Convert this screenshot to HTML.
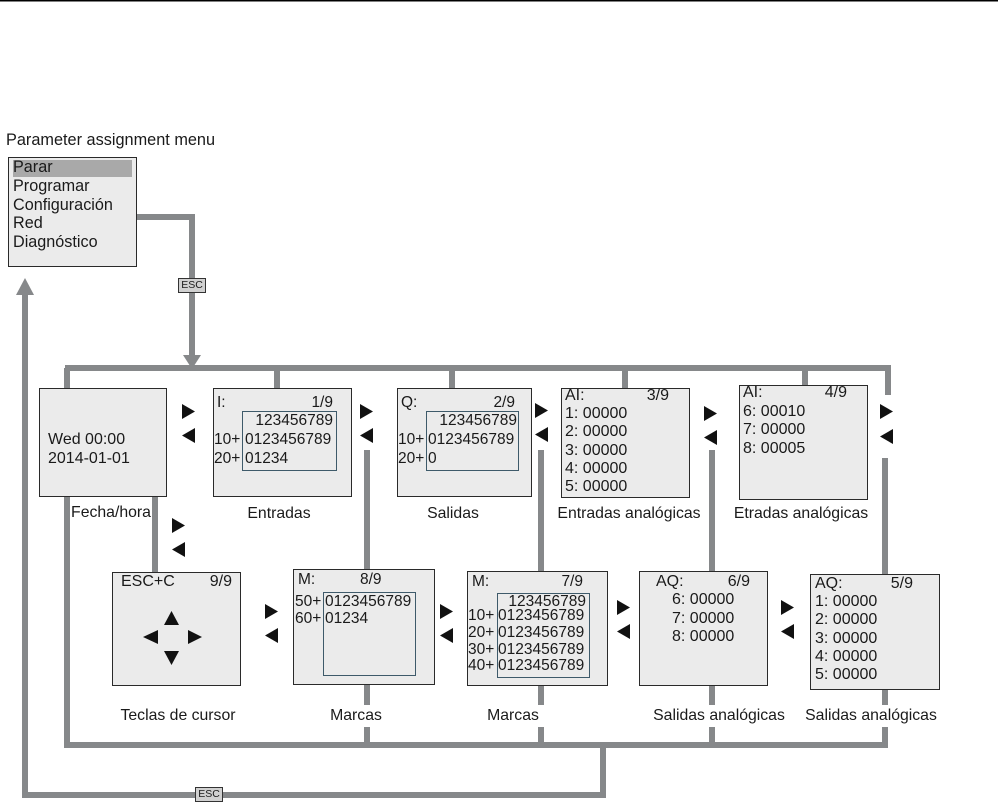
<!DOCTYPE html>
<html><head><meta charset="utf-8">
<style>
body{margin:0;background:#fff;}
#c{position:relative;width:998px;height:805px;overflow:hidden;background:#fff;font-family:"Liberation Sans",Arial,sans-serif;color:#1a1a1a;}
.b{position:absolute;background:#ebebeb;border:1.5px solid #2a2a2a;box-sizing:border-box;}
.i{position:absolute;border:1.5px solid #3e5a6a;box-sizing:border-box;}
.t{position:absolute;font-size:15.5px;line-height:18px;white-space:nowrap;}
.r{text-align:right;}
.l{position:absolute;font-size:15.8px;line-height:18px;white-space:nowrap;transform:translateX(-50%);}
svg{position:absolute;left:0;top:0;}
</style></head><body><div id="c">
<svg width="998" height="805">
<rect x="0" y="0" width="998" height="1.5" fill="#000"/>
<g fill="none" stroke="#86888a" stroke-width="6">
<path d="M136,217 H192 V358"/>
<path d="M65,368 H888 V395"/>
<path d="M67,368 V745 H888"/>
<path d="M277,368 V390 M452,368 V390 M625,368 V390 M805,368 V388"/>
<path d="M155,496 V573"/>
<path d="M367,450 V570 M367,684 V705 M367,727 V745"/>
<path d="M541,450 V572 M541,685 V705 M541,727 V745"/>
<path d="M712,450 V572 M712,685 V705 M712,727 V745"/>
<path d="M885,458 V576 M885,688 V705 M885,727 V745"/>
<path d="M603,745 V795 H25 V292"/>
</g>
<polygon points="183,355 201,355 192,369" fill="#86888a"/>
<polygon points="16,295 34,295 25,278" fill="#86888a"/>
<g fill="#111">
<polygon points="182,404 195,411.5 182,419"/><polygon points="195,428 182,435.5 195,443"/>
<polygon points="360,404 373,411.5 360,419"/><polygon points="373,428 360,435.5 373,443"/>
<polygon points="535,403 548,410.5 535,418"/><polygon points="548,427 535,434.5 548,442"/>
<polygon points="704,406 717,413.5 704,421"/><polygon points="717,430 704,437.5 717,445"/>
<polygon points="880,404 893,411.5 880,419"/><polygon points="893,429 880,436.5 893,444"/>
<polygon points="172,518 185,525.5 172,533"/><polygon points="185,542 172,549.5 185,557"/>
<polygon points="265,604 278,611.5 265,619"/><polygon points="278,628 265,635.5 278,643"/>
<polygon points="440,604 453,611.5 440,619"/><polygon points="453,628 440,635.5 453,643"/>
<polygon points="617,600 630,607.5 617,615"/><polygon points="630,624 617,631.5 630,639"/>
<polygon points="781,600 794,607.5 781,615"/><polygon points="794,624 781,631.5 794,639"/>
</g>
</svg>

<div class="t" style="left:6px;top:131px;font-size:16.3px;">Parameter assignment menu</div>
<div class="b" style="left:8px;top:157px;width:129px;height:110px;"></div>
<div style="position:absolute;left:13px;top:160px;width:119px;height:17px;background:#a9a9a9;"></div>
<div class="t" style="left:13px;top:158px;font-size:16.2px;line-height:18.8px;">Parar<br>Programar<br>Configuración<br>Red<br>Diagnóstico</div>

<div style="position:absolute;left:178px;top:278px;width:28px;height:15px;background:#d0d0d0;border:1px solid #333;box-sizing:border-box;font-size:10.5px;line-height:13px;text-align:center;">ESC</div>
<div style="position:absolute;left:195px;top:787px;width:28px;height:15px;background:#d0d0d0;border:1px solid #333;box-sizing:border-box;font-size:10.5px;line-height:13px;text-align:center;">ESC</div>

<div class="b" style="left:39px;top:388px;width:128px;height:109px;"></div>
<div class="t" style="left:48px;top:430px;line-height:19px;font-size:16px;">Wed 00:00<br>2014-01-01</div>

<div class="b" style="left:213px;top:388px;width:139px;height:109px;"></div>
<div class="i" style="left:242px;top:411px;width:95px;height:60px;"></div>
<div class="t" style="left:217px;top:394px;">I:</div>
<div class="t r" style="left:290px;top:394px;width:43px;">1/9</div>
<div class="t r" style="left:240px;top:412px;width:93px;">123456789</div>
<div class="t" style="left:214px;top:431px;">10+</div><div class="t" style="left:245px;top:431px;">0123456789</div>
<div class="t" style="left:214px;top:450px;">20+</div><div class="t" style="left:245px;top:450px;">01234</div>

<div class="b" style="left:397px;top:388px;width:135px;height:109px;"></div>
<div class="i" style="left:426px;top:411px;width:93px;height:60px;"></div>
<div class="t" style="left:401px;top:394px;">Q:</div>
<div class="t r" style="left:472px;top:394px;width:43px;">2/9</div>
<div class="t r" style="left:424px;top:412px;width:93px;">123456789</div>
<div class="t" style="left:398px;top:431px;">10+</div><div class="t" style="left:428px;top:431px;">0123456789</div>
<div class="t" style="left:398px;top:450px;">20+</div><div class="t" style="left:428px;top:450px;">0</div>

<div class="b" style="left:561px;top:388px;width:129px;height:110px;"></div>
<div class="t" style="left:565px;top:387px;font-size:16px;line-height:18.2px;">AI:<br>1: 00000<br>2: 00000<br>3: 00000<br>4: 00000<br>5: 00000</div>
<div class="t r" style="left:620px;top:387px;width:49px;font-size:16px;">3/9</div>

<div class="b" style="left:739px;top:385px;width:129px;height:115px;"></div>
<div class="t" style="left:743px;top:384px;font-size:16px;line-height:18.7px;">AI:<br>6: 00010<br>7: 00000<br>8: 00005</div>
<div class="t r" style="left:798px;top:384px;width:49px;font-size:16px;">4/9</div>

<div class="b" style="left:112px;top:572px;width:129px;height:114px;"></div>
<div class="t" style="left:121px;top:573px;font-size:16px;">ESC+C</div>
<div class="t r" style="left:190px;top:573px;width:42px;font-size:16px;">9/9</div>
<svg width="998" height="805" style="pointer-events:none"><g fill="#111">
<polygon points="171.5,611 179,625 164,625"/><polygon points="164,651 179,651 171.5,665"/>
<polygon points="143,637 158,630 158,644"/><polygon points="202,637 188,630 188,644"/></g></svg>

<div class="b" style="left:293px;top:569px;width:142px;height:116px;"></div>
<div class="i" style="left:323px;top:592px;width:93px;height:84px;"></div>
<div class="t" style="left:298px;top:571px;">M:</div>
<div class="t" style="left:360px;top:571px;">8/9</div>
<div class="t" style="left:295px;top:593px;line-height:17px;">50+<br>60+</div>
<div class="t" style="left:325px;top:593px;line-height:17px;">0123456789<br>01234</div>

<div class="b" style="left:467px;top:571px;width:141px;height:115px;"></div>
<div class="i" style="left:497px;top:593px;width:93px;height:85px;"></div>
<div class="t" style="left:472px;top:573px;">M:</div>
<div class="t r" style="left:540px;top:573px;width:43px;">7/9</div>
<div class="t r" style="left:494px;top:593px;width:92px;">123456789</div>
<div class="t" style="left:468px;top:608px;line-height:16.8px;">10+<br>20+<br>30+<br>40+</div>
<div class="t" style="left:498px;top:608px;line-height:16.8px;">0123456789<br>0123456789<br>0123456789<br>0123456789</div>

<div class="b" style="left:639px;top:571px;width:129px;height:115px;"></div>
<div class="t" style="left:656px;top:573px;font-size:16px;">AQ:</div>
<div class="t r" style="left:700px;top:573px;width:50px;font-size:16px;">6/9</div>
<div class="t" style="left:672px;top:591px;font-size:16px;line-height:18.5px;">6: 00000<br>7: 00000<br>8: 00000</div>

<div class="b" style="left:810px;top:574px;width:130px;height:116px;"></div>
<div class="t" style="left:815px;top:575px;font-size:16px;">AQ:</div>
<div class="t r" style="left:863px;top:575px;width:50px;font-size:16px;">5/9</div>
<div class="t" style="left:815px;top:593px;font-size:16px;line-height:18.3px;">1: 00000<br>2: 00000<br>3: 00000<br>4: 00000<br>5: 00000</div>

<div class="l" style="left:111px;top:504px;">Fecha/hora</div>
<div class="l" style="left:279px;top:505px;">Entradas</div>
<div class="l" style="left:453px;top:505px;">Salidas</div>
<div class="l" style="left:629px;top:505px;">Entradas analógicas</div>
<div class="l" style="left:801px;top:505px;">Etradas analógicas</div>
<div class="l" style="left:178px;top:707px;">Teclas de cursor</div>
<div class="l" style="left:356px;top:707px;">Marcas</div>
<div class="l" style="left:513px;top:707px;">Marcas</div>
<div class="l" style="left:719px;top:707px;">Salidas analógicas</div>
<div class="l" style="left:871px;top:707px;">Salidas analógicas</div>
</div></body></html>
